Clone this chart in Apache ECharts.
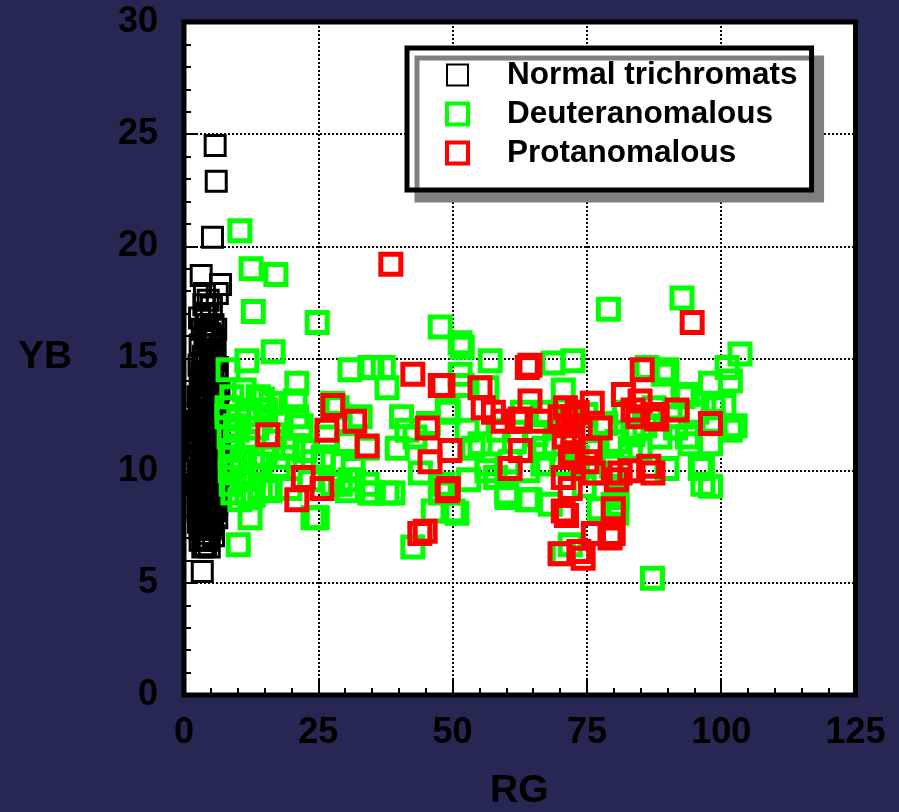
<!DOCTYPE html>
<html>
<head>
<meta charset="utf-8">
<style>
  html, body { margin: 0; padding: 0; background: #262752; }
  #chart { width: 899px; height: 812px; }
</style>
<script src="https://cdn.jsdelivr.net/npm/echarts@6/dist/echarts.min.js"></script>
</head>
<body>
<div id="chart"></div>
<script>
// [RG, YB] pairs
const normalPts = [
  [5.8,24.5],[6.0,22.9],[5.3,20.4],[3.2,18.7],[6.8,18.3],[6.2,17.9],[4.5,17.6],[5.1,17.3],[3.7,17.4],[4.1,16.9],
  [5.4,16.5],[4.8,16.1],[5.6,15.8],[3.9,15.9],[4.6,15.6],[5.0,15.3],[3.6,15.1],[5.7,14.9],[4.3,14.7],[3.3,14.4],
  [5.2,14.3],[4.7,14.0],[3.0,13.8],[5.9,13.7],[4.0,13.5],[3.5,13.2],[5.5,13.1],[4.4,12.9],[2.9,12.7],[6.1,12.6],
  [3.8,12.4],[5.0,12.3],[4.2,12.0],[3.1,11.9],[5.6,11.8],[4.6,11.6],[3.4,11.4],[5.3,11.3],[2.8,11.1],[4.0,11.0],
  [6.0,10.9],[3.6,10.8],[4.8,10.6],[5.5,10.4],[3.2,10.3],[4.3,10.1],[2.7,9.9],[5.1,9.9],[3.9,9.7],[5.8,9.5],
  [4.5,9.4],[3.3,9.2],[5.2,9.1],[2.9,8.9],[4.1,8.8],[5.6,8.6],[3.6,8.5],[4.7,8.3],[3.1,8.1],[5.3,8.0],
  [4.2,7.8],[3.5,7.6],[4.9,7.4],[3.8,7.2],[4.3,7.0],[3.0,6.9],[4.0,6.7],[3.4,5.5],[4.8,13.3],[3.7,12.1],
  [5.9,11.5],[4.9,10.9],[3.5,9.6],[6.2,10.2],[4.4,8.2],[2.6,10.6],[5.4,12.8],[3.1,14.0],[4.6,14.4],[6.3,13.0],
  [3.3,12.5],[5.7,9.9],[4.1,9.0],[2.8,8.4],[5.0,7.7],[4.6,6.9],[3.9,14.2],[5.1,16.0],[4.2,15.2],[3.4,16.3],
  [5.8,15.4],[2.9,10.0],[6.1,8.5],[4.5,11.3],[3.0,7.4],[5.5,12.0],[4.7,9.7],[3.6,13.6],[6.0,14.2],[2.7,11.6],
  [4.3,12.6],[5.2,10.7],[2.5,12.2],[2.6,13.3],[2.4,10.9],[2.5,9.4],[2.6,8.2],[2.8,14.7],[3.0,15.6],[2.7,7.7],
  [6.4,11.9],[6.5,10.6],[6.3,9.1],[6.2,14.6],[6.4,12.4],[6.1,7.9],[5.9,16.3],[2.9,16.8],[3.8,17.9],[6.6,11.2],
  [2.4,11.5],[6.4,9.8],[3.5,6.6],[4.7,6.6],[5.5,7.1],[2.8,13.0],[4.4,16.5],[6.5,13.6],
  [3.9,11.2],[4.4,10.7],[5.0,11.5],[3.4,10.1],[4.1,12.3],[4.9,12.0],[3.6,11.7],[5.3,9.6],[4.0,9.3],[3.2,8.6],
  [4.7,8.9],[5.7,8.2],[3.7,8.0],[4.5,7.5],[5.9,12.9],[3.8,13.9],[4.9,14.6],[5.4,13.9],[3.2,13.4],[4.2,13.0],
  [4.6,12.3],[3.0,12.2],[5.2,11.9],[6.0,11.6],[3.3,10.7],[5.9,10.5],[4.6,10.2],[3.7,9.0],[5.5,9.3],[2.6,9.0],
  [4.3,9.9],[5.0,8.6],[3.4,7.9],[4.0,7.4],[5.3,7.6],[3.9,6.9],[4.4,14.0],[3.5,14.8],[5.3,15.1],[4.0,16.2]
];

const deuterPts = [
  [10.4,20.7],[12.5,19.0],[17.1,18.75],[12.9,17.1],[24.8,16.6],[47.7,16.4],[51.8,15.5],[57.0,14.9],[16.6,15.3],[11.7,14.9],
  [8.2,14.5],[21.0,13.9],[30.9,14.5],[35.0,14.6],[37.8,13.7],[51.4,14.3],[51.8,13.8],[56.4,13.7],[49.2,12.6],[20.7,13.1],
  [8.9,13.3],[13.8,13.3],[21.0,12.4],[20.3,11.1],[41.5,11.8],[39.7,11.0],[28.5,12.8],[30.4,11.3],[25.9,10.4],[31.5,10.1],
  [34.1,9.4],[37.8,9.0],[38.9,9.0],[29.1,9.4],[30.4,9.1],[35.2,9.0],[15.5,9.2],[12.3,7.9],[24.8,7.9],[10.1,6.7],
  [42.6,6.6],[46.4,8.2],[50.8,8.1],[47.7,9.0],[52.7,11.8],[53.8,11.0],[56.4,10.3],[60.1,9.0],[63.9,8.7],[51.4,15.7],
  [79.0,17.2],[92.7,17.7],[103.5,15.2],[101.1,14.6],[101.7,14.0],[68.7,14.8],[72.4,14.9],[86.2,14.6],[89.2,14.3],[98.0,13.9],
  [70.6,13.6],[92.9,13.3],[98.5,12.8],[98.5,12.2],[101.7,11.8],[93.7,11.5],[84.9,11.0],[56.4,10.0],[60.1,8.8],[64.4,8.7],
  [68.2,8.5],[60.7,10.4],[71.9,6.7],[79.9,8.5],[80.6,8.1],[87.2,5.2],[96.6,9.4],[96.1,10.1],[50.1,8.2],[89.9,14.5],
  [93.7,13.4],[94.2,11.2],[98.0,11.2],[88.6,11.5],[83.6,11.6],[83.1,11.0],[89.9,10.1],[96.5,10.1],[98.0,9.3],[80.6,8.8],
  [37.1,14.6],[49.0,12.7],[55.1,11.2],[48.2,9.4],[80.6,11.3],[83.6,11.8],[71.9,12.2],[73.2,10.6],[76.2,10.9],[76.9,9.9],
  [80.6,9.1],[70.6,6.3],[34.6,14.6],[27.7,13.0],[32.8,12.4],[19.2,11.0],[9.9,11.8],[9.1,10.9],[11.7,11.3],[12.8,10.6],
  [14.2,10.3],[11.0,9.6],[14.2,9.2],[9.1,9.0],[11.7,9.0],[16.0,9.1],[24.0,7.9],[19.7,9.2],[24.0,10.4],[25.9,10.6],
  [27.7,9.4],[30.9,9.6],[34.6,9.0],[26.6,11.5],[30.4,11.2],[34.1,11.0],[8.0,12.8],[8.0,12.4],[8.6,10.6],[8.6,10.0],
  [8.4,11.5],[10.2,12.3],[12.0,12.5],[13.5,11.9],[15.2,12.7],[16.8,11.6],[9.5,10.2],[10.8,10.4],[13.0,9.8],[15.0,10.6],
  [17.5,10.2],[8.8,9.4],[10.4,8.7],[12.9,8.9],[18.0,12.2],[16.2,13.0],[11.2,13.6],[14.6,13.2],[9.6,12.0],[18.8,10.6],
  [22.5,10.9],[23.5,9.6],[21.8,12.0],[40.5,12.4],[43.0,11.5],[45.5,12.1],[58.5,11.8],[61.5,11.3],[63.0,12.6],[65.5,11.6],
  [67.5,12.6],[69.0,11.2],[66.8,10.3],[74.8,12.5],[78.5,12.1],[79.6,10.2],[82.0,12.6],[85.8,12.0],[87.5,12.8],[90.5,12.4],
  [91.5,11.9],[95.5,12.6],[100.5,12.9],[102.6,12.0],[64.0,10.0],[58.0,9.7],[44.0,9.9],[53.0,9.6],[74.5,9.3],[77.3,8.3],
  [67.0,11.0],[70.3,10.3]
];

const protanPts = [
  [38.5,19.2],[42.6,14.3],[48.2,13.8],[55.1,13.7],[63.9,14.6],[27.7,12.9],[31.8,12.2],[26.6,11.8],[34.1,11.1],[15.6,11.6],
  [45.3,11.9],[49.5,10.9],[45.8,10.4],[55.7,12.8],[59.4,12.2],[62.0,12.2],[62.6,10.9],[60.7,10.1],[22.2,9.7],[25.7,9.2],
  [21.0,8.7],[49.2,9.2],[43.9,7.2],[44.9,7.3],[94.6,16.6],[64.4,14.7],[85.3,14.5],[47.7,13.8],[64.4,13.1],[76.0,13.0],
  [81.8,13.4],[84.9,13.1],[83.6,12.7],[62.6,12.3],[66.3,12.2],[70.0,12.4],[72.4,12.4],[77.5,11.9],[87.3,12.5],[91.8,12.7],
  [98.0,12.1],[72.4,11.3],[72.4,10.8],[75.6,11.0],[70.6,9.7],[71.9,9.2],[76.2,9.9],[81.2,9.9],[87.3,9.9],[49.0,9.1],
  [70.6,8.2],[79.9,8.3],[79.9,7.2],[76.2,7.2],[70.0,6.3],[74.3,6.1],[71.9,10.6],[75.0,10.4],[86.5,10.2],[88.0,12.3],
  [84.5,12.4],[71.5,12.0],[70.8,11.5],[73.2,12.6],[71.0,12.8],[79.3,7.0],[80.5,9.6],[57.6,12.6],[83.0,10.0],[71.2,8.0],
  [73.5,6.4]
];

const seriesNames = ['Normal trichromats', 'Deuteranomalous', 'Protanomalous'];
const seriesColors = ['#000000', '#00ff00', '#ff0000'];
const seriesBorders = [3, 5, 5];
const xMin = 0, xMax = 125, xStep = 25;
const yMin = 0, yMax = 30, yStep = 5;

const font = '"Liberation Sans", Arial, Helvetica, sans-serif';

const chart = echarts.init(document.getElementById('chart'));

const pointSets = [normalPts, deuterPts, protanPts];

const option = {
  backgroundColor: '#262752',
  animation: false,
  grid: {
    left: 184, right: 43.5, top: 22, bottom: 117,
    show: true,
    backgroundColor: '#ffffff',
    borderColor: '#000000',
    borderWidth: 5
  },
  legend: {
    orient: 'vertical',
    left: 407, top: 48,
    data: seriesNames.map((n, i) => ({
      name: n,
      itemStyle: { color: 'rgba(255,255,255,0)', borderColor: seriesColors[i], borderWidth: i === 0 ? 2 : 4 }
    })),
    backgroundColor: '#ffffff',
    borderColor: '#000000',
    borderWidth: 5,
    shadowColor: '#808080',
    shadowOffsetX: 10,
    shadowOffsetY: 10,
    shadowBlur: 0,
    padding: [11, 14, 21, 38],
    itemWidth: 21,
    itemHeight: 21,
    itemGap: 7,
    textStyle: {
      fontFamily: font, fontWeight: 'bold', fontSize: 31.5, color: '#000',
      lineHeight: 32, padding: [0, 0, 0, 34]
    }
  },
  xAxis: {
    type: 'value',
    min: xMin, max: xMax, interval: xStep,
    axisLine: { show: false },
    axisTick: { show: true, inside: true, length: 16, lineStyle: { color: '#000', width: 2 } },
    minorTick: { show: true, splitNumber: 5, length: 7, lineStyle: { color: '#000', width: 2 } },
    axisLabel: { fontFamily: font, fontWeight: 'bold', fontSize: 36, color: '#000', margin: 20 },
    splitLine: { show: true, lineStyle: { color: '#000', width: 2, type: [2, 2] } }
  },
  yAxis: {
    type: 'value',
    min: yMin, max: yMax, interval: yStep,
    axisLine: { show: false },
    axisTick: { show: true, inside: true, length: 13, lineStyle: { color: '#000', width: 2 } },
    minorTick: { show: true, splitNumber: 5, length: 7, lineStyle: { color: '#000', width: 2 } },
    axisLabel: { fontFamily: font, fontWeight: 'bold', fontSize: 36, color: '#000', margin: 26 },
    splitLine: { show: true, lineStyle: { color: '#000', width: 2, type: [2, 2] } }
  },
  graphic: [
    { type: 'text', left: 18, top: 338,
      style: { text: 'YB', fontFamily: font, fontWeight: 'bold', fontSize: 39, fill: '#000' } },
    { type: 'text', left: 490, top: 772,
      style: { text: 'RG', fontFamily: font, fontWeight: 'bold', fontSize: 39, fill: '#000' } }
  ],
  series: seriesNames.map((n, i) => ({
    name: n,
    type: 'scatter',
    symbol: 'rect',
    symbolSize: 20,
    data: pointSets[i],
    itemStyle: {
      color: 'rgba(255,255,255,0)',
      borderColor: seriesColors[i],
      borderWidth: seriesBorders[i],
      opacity: 1
    }
  }))
};

chart.setOption(option);
</script>
</body>
</html>
